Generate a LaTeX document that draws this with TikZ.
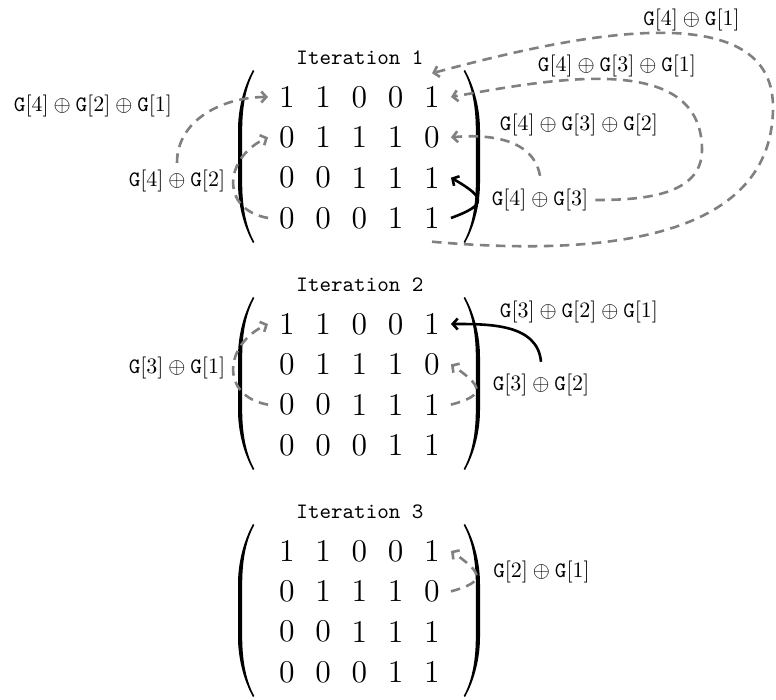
\documentclass[tikz,border=0pt]{standalone}
\usepackage{graphicx}
\usetikzlibrary{arrows.meta}
\newcommand\bigtxt[1]{\scalebox{2.2}{#1}}
\begin{document}
\begin{tikzpicture}[x=1pt,y=1pt,
  entry/.style={inner xsep=11pt, inner ysep=13pt},
  lbl/.style={inner sep=7pt},
  ttl/.style={inner sep=0pt},
  gconn/.style={draw=gray, line width=2.6pt, dash pattern=on 9.5pt off 6.5pt,
    -{Straight Barb[length=5pt,width=11pt]}},
  bconn/.style={draw=black, line width=2.6pt,
    -{Straight Barb[length=5pt,width=11pt]}},
  lpar/.pic={
    \fill (15,0) .. controls (5,-18) and (0,-40) .. (0,-60) -- (0,-113)
      .. controls (0,-133) and (5,-155) .. (15,-173)
      -- (16.3,-172) .. controls (7,-155) and (4.2,-133) .. (4.2,-113)
      -- (4.2,-60) .. controls (4.2,-40) and (7,-18) .. (16.3,-1) -- cycle;
  }
]
\useasboundingbox (0,0) rectangle (776,-699);

% matrix entries, three copies of the same 4x5 matrix
\foreach \m/\dy in {1/0,2/227,3/454}{
  \foreach \row [count=\r] in {{1,1,0,0,1},{0,1,1,1,0},{0,0,1,1,1},{0,0,0,1,1}}{
    \foreach \v [count=\c] in \row {
      \node[entry] (m\m-\r-\c) at ({287+36.25*(\c-1)}, {-(97+40.33*(\r-1)+\dy)}) {\bigtxt{\Large\v}};
    }
  }
  \pic at (238,{-(70+\dy)}) {lpar};
  \pic[xscale=-1] at (480,{-(70+\dy)}) {lpar};
}

% titles
\node[ttl] (t1) at (360,-58) {\bigtxt{\texttt{Iteration 1}}};
\node[ttl] (t2) at (360,-285) {\bigtxt{\texttt{Iteration 2}}};
\node[ttl] (t3) at (360,-512) {\bigtxt{\texttt{Iteration 3}}};

% row-sum labels
\node[lbl] (g421) at (93,-106) {\bigtxt{$\mathtt{G}[4]\oplus\mathtt{G}[2]\oplus\mathtt{G}[1]$}};
\node[lbl] (g42) at (177,-181) {\bigtxt{$\mathtt{G}[4]\oplus\mathtt{G}[2]$}};
\node[lbl] (g41) at (691.5,-20) {\bigtxt{$\mathtt{G}[4]\oplus\mathtt{G}[1]$}};
\node[lbl] (g431) at (617,-66) {\bigtxt{$\mathtt{G}[4]\oplus\mathtt{G}[3]\oplus\mathtt{G}[1]$}};
\node[lbl] (g432) at (579,-125) {\bigtxt{$\mathtt{G}[4]\oplus\mathtt{G}[3]\oplus\mathtt{G}[2]$}};
\node[lbl] (g43) at (540,-200) {\bigtxt{$\mathtt{G}[4]\oplus\mathtt{G}[3]$}};
\node[lbl] (g321) at (579,-312) {\bigtxt{$\mathtt{G}[3]\oplus\mathtt{G}[2]\oplus\mathtt{G}[1]$}};
\node[lbl] (g31) at (177,-368) {\bigtxt{$\mathtt{G}[3]\oplus\mathtt{G}[1]$}};
\node[lbl] (g32) at (541,-385) {\bigtxt{$\mathtt{G}[3]\oplus\mathtt{G}[2]$}};
\node[lbl] (g21) at (541.5,-572) {\bigtxt{$\mathtt{G}[2]\oplus\mathtt{G}[1]$}};

% turning points of the two outer loops
\coordinate (wA) at (773,-107);
\coordinate (wB) at (702,-150);

% iteration 1
\draw[gconn] (g42.north) to[out=90,in=180] (m1-1-1.west);
\draw[gconn] (m1-4-1.west) to[out=170,in=205,looseness=1.55] (m1-2-1.west);
\draw[gconn] (m1-4-5.south) to[out=-5,in=-90] (wA) to[out=90,in=15,looseness=0.9] (m1-1-5.north);
\draw[gconn] (g43.east) to[out=0,in=-90] (wB) to[out=90,in=10] (m1-1-5.east);
\draw[gconn] ([yshift=6pt]g43.north) to[out=100,in=5] (m1-2-5.east);
\draw[bconn] (m1-4-5.east) to[out=20,in=-30,looseness=2.5] (m1-3-5.east);

% iteration 2
\draw[gconn] (m2-3-1.west) to[out=170,in=205,looseness=1.55] (m2-1-1.west);
\draw[bconn] ([yshift=5pt]g32.north) to[out=95,in=0] (m2-1-5.east);
\draw[gconn] (m2-3-5.east) to[out=15,in=-35,looseness=2.4] (m2-2-5.east);

% iteration 3
\draw[gconn] (m3-2-5.east) to[out=15,in=-35,looseness=2.4] (m3-1-5.east);
\end{tikzpicture}
\end{document}
